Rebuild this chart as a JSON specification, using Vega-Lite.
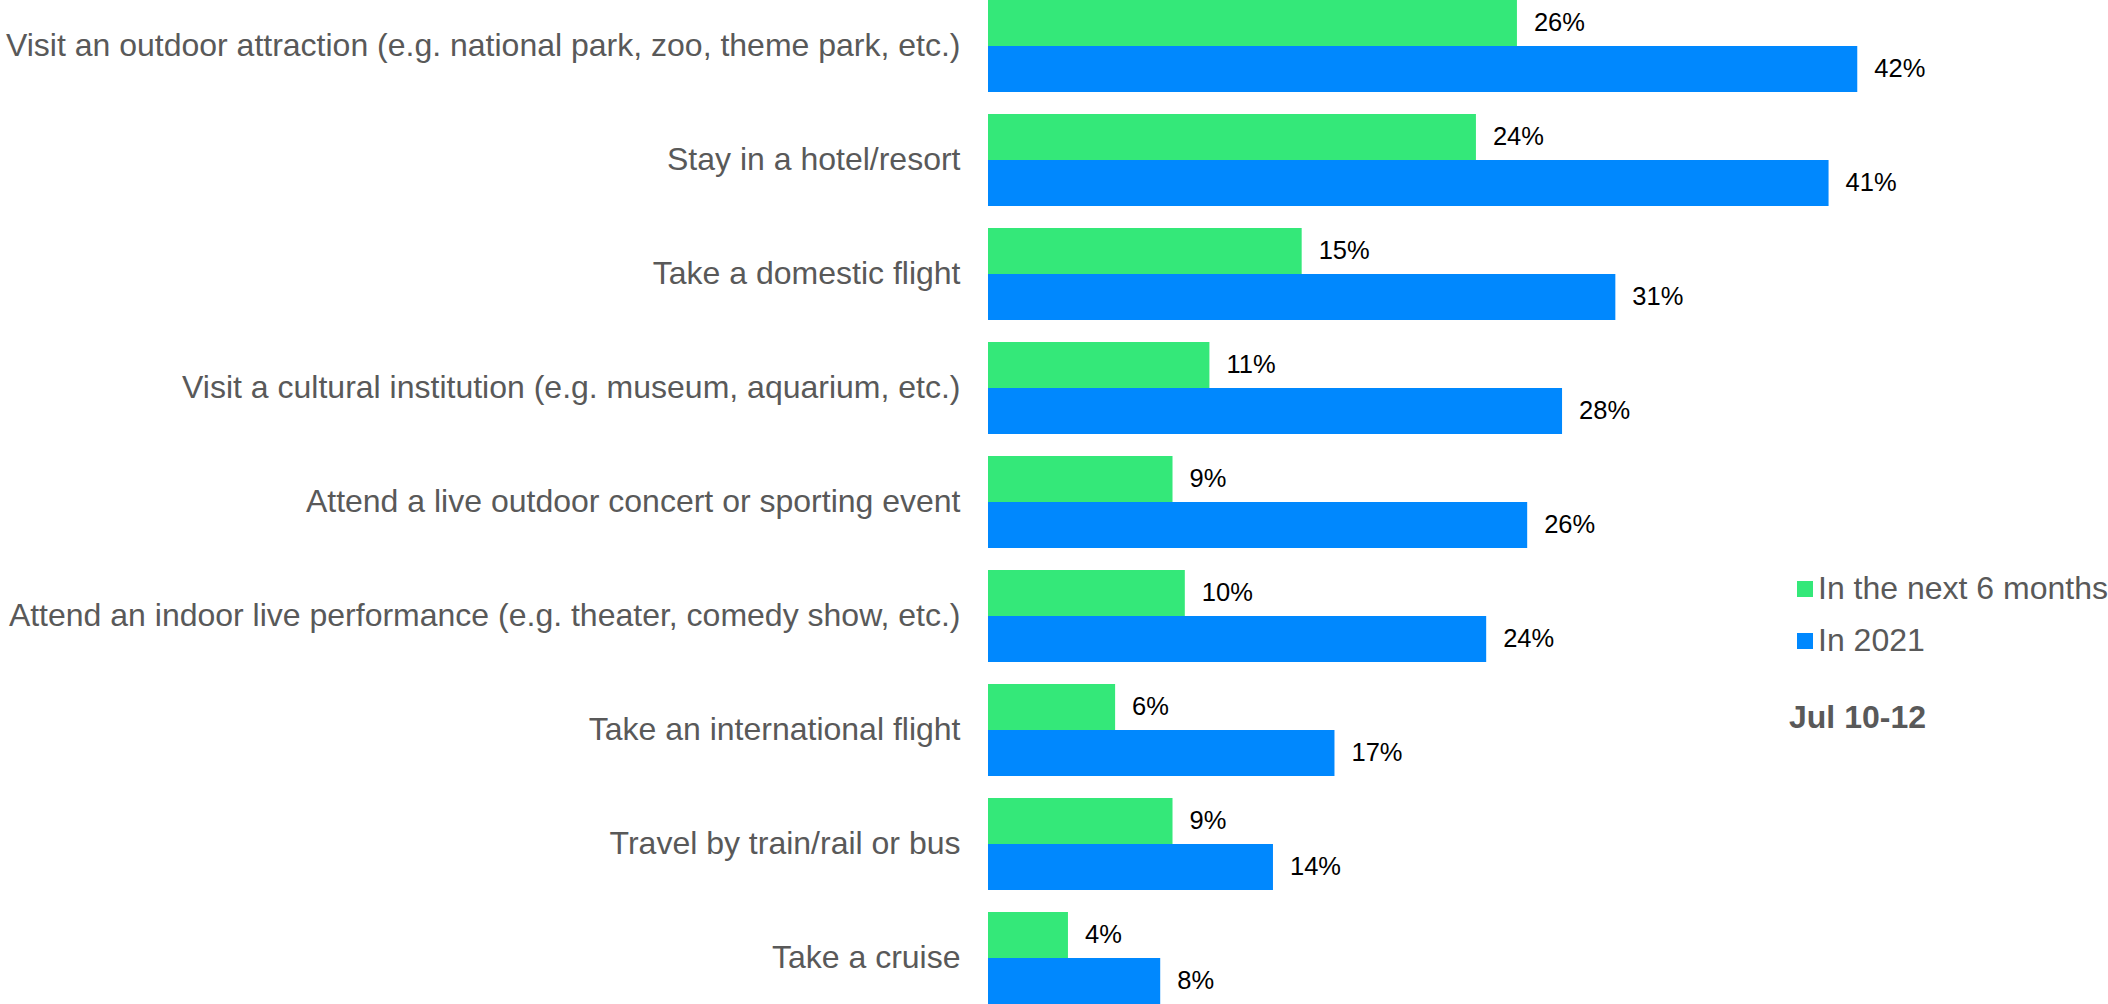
{
  "$schema": "https://vega.github.io/schema/vega-lite/v6.json",
  "width": 1120,
  "height": 1004,
  "autosize": {"type": "none"},
  "padding": {"left": 988, "top": 0, "right": 0, "bottom": 0},
  "background": "white",
  "data": {
    "values": [
      {"activity": "Visit an outdoor attraction (e.g. national park, zoo, theme park, etc.)", "period": "In the next 6 months", "share": 0.258},
      {"activity": "Visit an outdoor attraction (e.g. national park, zoo, theme park, etc.)", "period": "In 2021", "share": 0.424},
      {"activity": "Stay in a hotel/resort", "period": "In the next 6 months", "share": 0.238},
      {"activity": "Stay in a hotel/resort", "period": "In 2021", "share": 0.410},
      {"activity": "Take a domestic flight", "period": "In the next 6 months", "share": 0.153},
      {"activity": "Take a domestic flight", "period": "In 2021", "share": 0.306},
      {"activity": "Visit a cultural institution (e.g. museum, aquarium, etc.)", "period": "In the next 6 months", "share": 0.108},
      {"activity": "Visit a cultural institution (e.g. museum, aquarium, etc.)", "period": "In 2021", "share": 0.280},
      {"activity": "Attend a live outdoor concert or sporting event", "period": "In the next 6 months", "share": 0.090},
      {"activity": "Attend a live outdoor concert or sporting event", "period": "In 2021", "share": 0.263},
      {"activity": "Attend an indoor live performance (e.g. theater, comedy show, etc.)", "period": "In the next 6 months", "share": 0.096},
      {"activity": "Attend an indoor live performance (e.g. theater, comedy show, etc.)", "period": "In 2021", "share": 0.243},
      {"activity": "Take an international flight", "period": "In the next 6 months", "share": 0.062},
      {"activity": "Take an international flight", "period": "In 2021", "share": 0.169},
      {"activity": "Travel by train/rail or bus", "period": "In the next 6 months", "share": 0.090},
      {"activity": "Travel by train/rail or bus", "period": "In 2021", "share": 0.139},
      {"activity": "Take a cruise", "period": "In the next 6 months", "share": 0.039},
      {"activity": "Take a cruise", "period": "In 2021", "share": 0.084}
    ]
  },
  "encoding": {
    "y": {
      "field": "activity",
      "type": "nominal",
      "sort": null,
      "scale": {"paddingInner": 0.193, "paddingOuter": 0},
      "axis": {
        "title": null,
        "domain": false,
        "ticks": false,
        "labelPadding": 28,
        "labelFontSize": 32,
        "labelColor": "#595959",
        "labelFont": "Liberation Sans",
        "labelLimit": 0
      }
    },
    "yOffset": {
      "field": "period",
      "type": "nominal",
      "sort": ["In the next 6 months", "In 2021"],
      "scale": {"paddingInner": 0, "paddingOuter": 0}
    },
    "x": {
      "field": "share",
      "type": "quantitative",
      "scale": {"domain": [0, 0.5463], "nice": false},
      "axis": null
    }
  },
  "layer": [
    {
      "mark": {"type": "bar"},
      "encoding": {
        "color": {
          "field": "period",
          "type": "nominal",
          "scale": {"domain": ["In the next 6 months", "In 2021"], "range": ["#34E879", "#0088FE"]},
          "legend": {
            "orient": "none",
            "legendX": 801,
            "legendY": 573,
            "title": "Jul 10-12",
            "titleOrient": "bottom",
            "titleFontSize": 32,
            "titleFontWeight": "bold",
            "titleColor": "#595959",
            "titleFont": "Liberation Sans",
            "titlePadding": 46,
            "labelFontSize": 32,
            "labelColor": "#595959",
            "labelFont": "Liberation Sans",
            "labelOffset": -3,
            "labelLimit": 0,
            "symbolType": "square",
            "symbolSize": 256,
            "symbolStrokeWidth": 0,
            "rowPadding": 20
          }
        }
      }
    },
    {
      "mark": {"type": "text", "align": "left", "baseline": "middle", "dx": 17, "fontSize": 25.5, "font": "Liberation Sans", "color": "black"},
      "encoding": {"text": {"field": "share", "type": "quantitative", "format": ".0%"}}
    }
  ],
  "config": {"view": {"stroke": null}}
}
